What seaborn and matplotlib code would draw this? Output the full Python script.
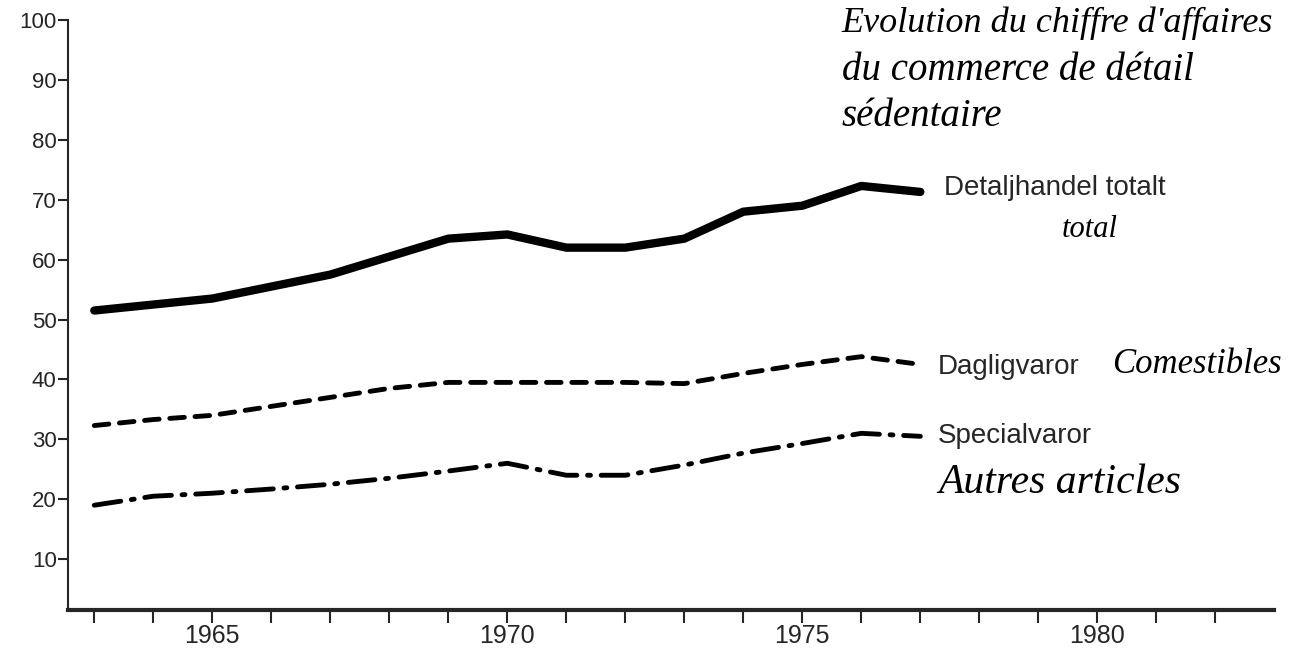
import pandas as pd
import matplotlib.pyplot as plt
import seaborn as sns

# values (index)
years = [1963, 1964, 1965, 1966, 1967, 1968, 1969, 1970, 1971, 1972, 1973, 1974, 1975, 1976, 1977]
totalt = [51.5, 52.5, 53.5, 55.5, 57.5, 60.5, 63.5, 64.2, 62.0, 62.0, 63.5, 68.0, 69.0, 72.3, 71.3]
dagligvaror = [32.3, 33.3, 34.0, 35.5, 37.0, 38.5, 39.5, 39.5, 39.5, 39.5, 39.3, 41.0, 42.5, 43.8, 42.5]
specialvaror = [19.0, 20.5, 21.0, 21.7, 22.5, 23.5, 24.7, 26.0, 24.0, 24.0, 25.7, 27.7, 29.3, 31.0, 30.5]

major_years = [1965, 1970, 1975, 1980]
minor_years = list(range(1963, 1983))
y_ticks = [10, 20, 30, 40, 50, 60, 70, 80, 90, 100]

df = pd.DataFrame({'year': years, 'totalt': totalt,
                   'dagligvaror': dagligvaror, 'specialvaror': specialvaror})

sns.set_style('ticks')
plt.rcParams['font.family'] = ['Liberation Sans', 'DejaVu Sans']

fig = plt.figure(figsize=(13.03, 6.5), dpi=100)
ax = fig.add_axes([0.052, 0.0615, 0.926, 0.9077])

sns.lineplot(data=df, x='year', y='totalt', ax=ax, color='black', linewidth=6,
             solid_capstyle='round', solid_joinstyle='round')
sns.lineplot(data=df, x='year', y='dagligvaror', ax=ax, color='black', linewidth=3.5,
             linestyle=(0, (3.0, 2.2)), dash_capstyle='round')
sns.lineplot(data=df, x='year', y='specialvaror', ax=ax, color='black', linewidth=3.5,
             linestyle=(0, (5.5, 2.2, 0.6, 2.2)), dash_capstyle='round')

ax.set_xlim(1962.55, 1983.0)
ax.set_ylim(1.5, 100)
ax.set_xticks(major_years)
ax.set_xticks(minor_years, minor=True)
ax.set_yticks(y_ticks)
ax.tick_params(axis='x', which='both', direction='out', length=9, width=1.5, labelsize=18, pad=1)
ax.tick_params(axis='y', direction='out', length=7, width=1.5, labelsize=16, pad=1)
ax.set_xlabel('')
ax.set_ylabel('')
sns.despine(ax=ax)
ax.spines['bottom'].set_linewidth(3)
ax.spines['left'].set_linewidth(1.5)

# printed series labels
ax.text(1977.4, 72.0, 'Detaljhandel totalt', fontsize=20, va='center', ha='left')
ax.text(1977.3, 42.0, 'Dagligvaror', fontsize=20, va='center', ha='left')
ax.text(1977.3, 30.5, 'Specialvaror', fontsize=20, va='center', ha='left')

# handwritten French notes
hand = dict(family='Liberation Serif', style='italic', color='black')
ax.text(1979.4, 65.0, 'total', fontsize=22, ha='left', va='center', **hand)
ax.text(1980.25, 42.5, 'Comestibles', fontsize=25, ha='left', va='center', **hand)
ax.text(1977.3, 22.8, 'Autres articles', fontsize=30, ha='left', va='center', **hand)
fig.text(0.646, 0.99, "Evolution du chiffre d'affaires", fontsize=26, ha='left', va='top', **hand)
fig.text(0.646, 0.92, 'du commerce de détail', fontsize=28, ha='left', va='top', **hand)
fig.text(0.646, 0.85, 'sédentaire', fontsize=28, ha='left', va='top', **hand)

fig.savefig('out.png', dpi=100, facecolor='white')
